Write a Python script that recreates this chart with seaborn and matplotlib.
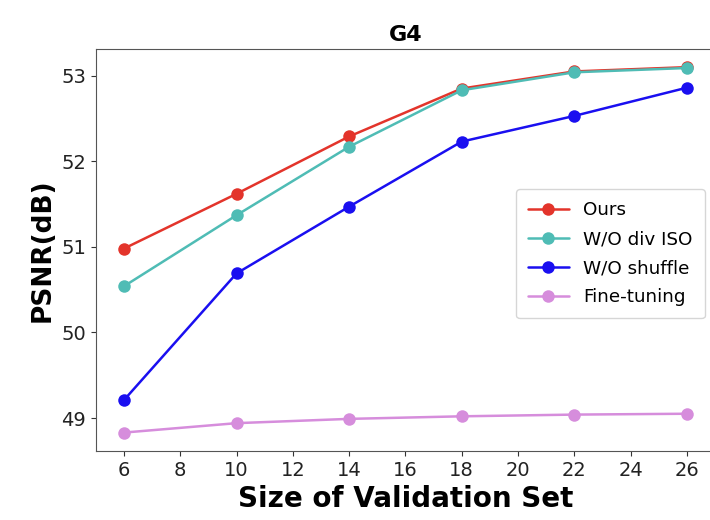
import pandas as pd
import matplotlib
matplotlib.use('Agg')
import matplotlib.pyplot as plt
import seaborn as sns

# 数据
sizes = [6, 10, 14, 18, 22, 26]
ours = [50.98, 51.62, 52.29, 52.85, 53.05, 53.10]
wo_div_iso = [50.54, 51.37, 52.17, 52.83, 53.04, 53.09]
wo_shuffle = [49.21, 50.69, 51.47, 52.23, 52.53, 52.86]
fine_tuning = [48.83, 48.94, 48.99, 49.02, 49.04, 49.05]

methods = ['Ours', 'W/O div ISO', 'W/O shuffle', 'Fine-tuning']
colors = ['#e3342b', '#4fbcb5', '#1a0ff0', '#d68ddc']

df = pd.DataFrame({
    'size': sizes * 4,
    'psnr': ours + wo_div_iso + wo_shuffle + fine_tuning,
    'method': sum([[m] * len(sizes) for m in methods], []),
})

sns.set_style('ticks')
plt.rcParams['font.family'] = ['DejaVu Sans']
plt.rcParams['text.color'] = 'black'
plt.rcParams['axes.labelcolor'] = 'black'

fig = plt.figure(figsize=(7.1, 5.2), dpi=100)
ax = fig.add_axes([0.135, 0.133, 0.872, 0.773])

sns.lineplot(data=df, x='size', y='psnr', hue='method', hue_order=methods,
             palette=colors, marker='o', markersize=9, markeredgewidth=0,
             linewidth=1.8, ax=ax)

ax.set_xticks(range(6, 27, 2))
ax.set_yticks([49, 50, 51, 52, 53])
ax.tick_params(labelsize=14, colors='#333333', labelcolor='#222222')
for s in ax.spines.values():
    s.set_color('#555555')

ax.set_title('G4', fontsize=16, fontweight='bold', color='black')
ax.set_xlabel('Size of Validation Set', fontsize=20, fontweight='bold', color='black')
ax.set_ylabel('PSNR(dB)', fontsize=19, fontweight='bold', color='black')

ax.legend(title=None, loc='center right', bbox_to_anchor=(0.998, 0.49),
          fontsize=13.2, frameon=True, labelspacing=0.6, borderpad=0.65,
          handlelength=2.2)

fig.savefig('out.png', dpi=100)
